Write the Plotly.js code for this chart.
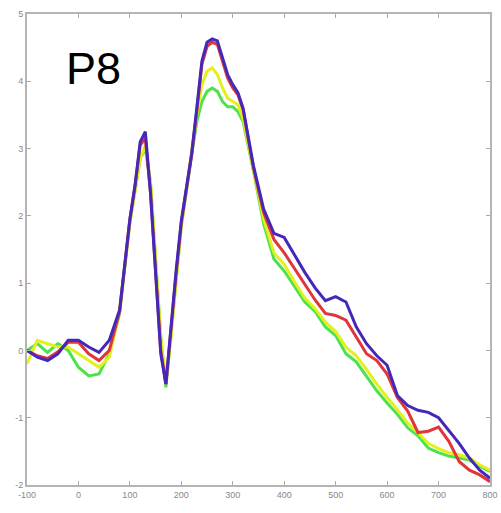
<!DOCTYPE html>
<html>
<head>
<meta charset="utf-8">
<script src="https://cdn.plot.ly/plotly-3.0.1.min.js"></script>
<style>html,body{margin:0;padding:0;background:#fff;}#chart{width:501px;height:513px;}</style>
</head>
<body>
<div id="chart"></div>
<script>
const timeMs = [-100,-80,-60,-40,-20,0,20,40,60,80,100,110,120,130,140,150,160,170,180,190,200,210,220,230,240,250,260,270,280,290,300,310,320,340,360,380,400,420,440,460,480,500,520,540,560,580,600,620,640,660,680,700,720,740,760,780,800];

const yellowVals = [-0.2,0.15,0.1,0.05,0.05,-0.05,-0.15,-0.25,-0.1,0.6,1.9,2.4,2.85,3.05,2.5,1.35,0.2,-0.5,0.2,1.05,1.85,2.4,2.95,3.5,3.95,4.15,4.2,4.1,3.9,3.75,3.7,3.65,3.45,2.72,1.95,1.45,1.28,1.02,0.78,0.62,0.42,0.28,0.05,-0.08,-0.28,-0.5,-0.7,-0.88,-1.08,-1.22,-1.38,-1.46,-1.52,-1.55,-1.6,-1.7,-1.78];
const greenVals = [0.0,0.1,-0.03,0.1,0.0,-0.25,-0.38,-0.35,-0.05,0.55,1.9,2.4,2.85,3.0,2.5,1.35,0.2,-0.55,0.2,1.05,1.85,2.4,2.9,3.4,3.7,3.85,3.9,3.85,3.7,3.62,3.62,3.55,3.4,2.68,1.88,1.36,1.18,0.95,0.72,0.58,0.35,0.22,-0.05,-0.17,-0.38,-0.6,-0.78,-0.95,-1.15,-1.27,-1.45,-1.52,-1.57,-1.6,-1.63,-1.72,-1.8];
const redVals = [0.0,-0.08,-0.12,-0.02,0.12,0.12,-0.05,-0.15,0.0,0.58,1.95,2.45,3.05,3.15,2.35,1.15,0.0,-0.5,0.35,1.15,1.9,2.42,2.9,3.55,4.25,4.52,4.58,4.55,4.3,4.05,3.9,3.8,3.58,2.72,2.05,1.65,1.45,1.22,1.0,0.75,0.55,0.52,0.45,0.2,-0.05,-0.15,-0.35,-0.7,-0.9,-1.22,-1.2,-1.14,-1.35,-1.65,-1.78,-1.85,-1.95];
const blueVals = [0.0,-0.1,-0.15,-0.05,0.15,0.15,0.05,-0.03,0.15,0.6,1.95,2.45,3.1,3.25,2.35,1.15,-0.05,-0.5,0.4,1.2,1.93,2.45,2.92,3.6,4.3,4.58,4.63,4.6,4.35,4.1,3.95,3.83,3.6,2.75,2.1,1.74,1.68,1.42,1.16,0.93,0.74,0.8,0.72,0.35,0.1,-0.08,-0.22,-0.67,-0.82,-0.89,-0.92,-1.0,-1.19,-1.38,-1.6,-1.78,-1.9];

const xTicks = [-100,0,100,200,300,400,500,600,700,800];
const yTicks = [-2,-1,0,1,2,3,4,5];
const panelLabel = 'P8';

const series = [
  {name:'green', y:greenVals, color:'#4ee24a'},
  {name:'yellow', y:yellowVals, color:'#e2f01e'},
  {name:'red', y:redVals, color:'#e0363a'},
  {name:'blue', y:blueVals, color:'#4628b8'}
];

const traces = series.map(s => ({
  x: timeMs, y: s.y, type:'scatter', mode:'lines', name:s.name,
  line:{color:s.color, width:3, shape:'linear'}, hoverinfo:'skip'
}));

const layout = {
  width:501, height:513,
  margin:{l:27, r:11, t:14, b:28},
  paper_bgcolor:'#fff', plot_bgcolor:'#fff',
  showlegend:false,
  xaxis:{range:[-100,800], tickvals:xTicks, ticktext:xTicks.map(String), ticks:'inside', ticklen:4, tickcolor:'#aaa',
    showline:true, linecolor:'#b4b4b4', linewidth:2, mirror:'ticks', showgrid:false, zeroline:false,
    tickfont:{family:'Liberation Sans, Arial', size:9, color:'#888'}},
  yaxis:{range:[-2,5], tickvals:yTicks, ticktext:yTicks.map(String), ticks:'inside', ticklen:4, tickcolor:'#aaa',
    showline:true, linecolor:'#b4b4b4', linewidth:2, mirror:'ticks', showgrid:false, zeroline:false,
    tickfont:{family:'Liberation Sans, Arial', size:9, color:'#888'}},
  annotations:[{text:panelLabel, xref:'paper', yref:'paper', x:0.08, y:0.885, xanchor:'left', yanchor:'middle',
    showarrow:false, font:{family:'Liberation Sans, Arial', size:45, color:'#000'}}]
};

Plotly.newPlot('chart', traces, layout, {displayModeBar:false, staticPlot:true});
</script>
</body>
</html>
